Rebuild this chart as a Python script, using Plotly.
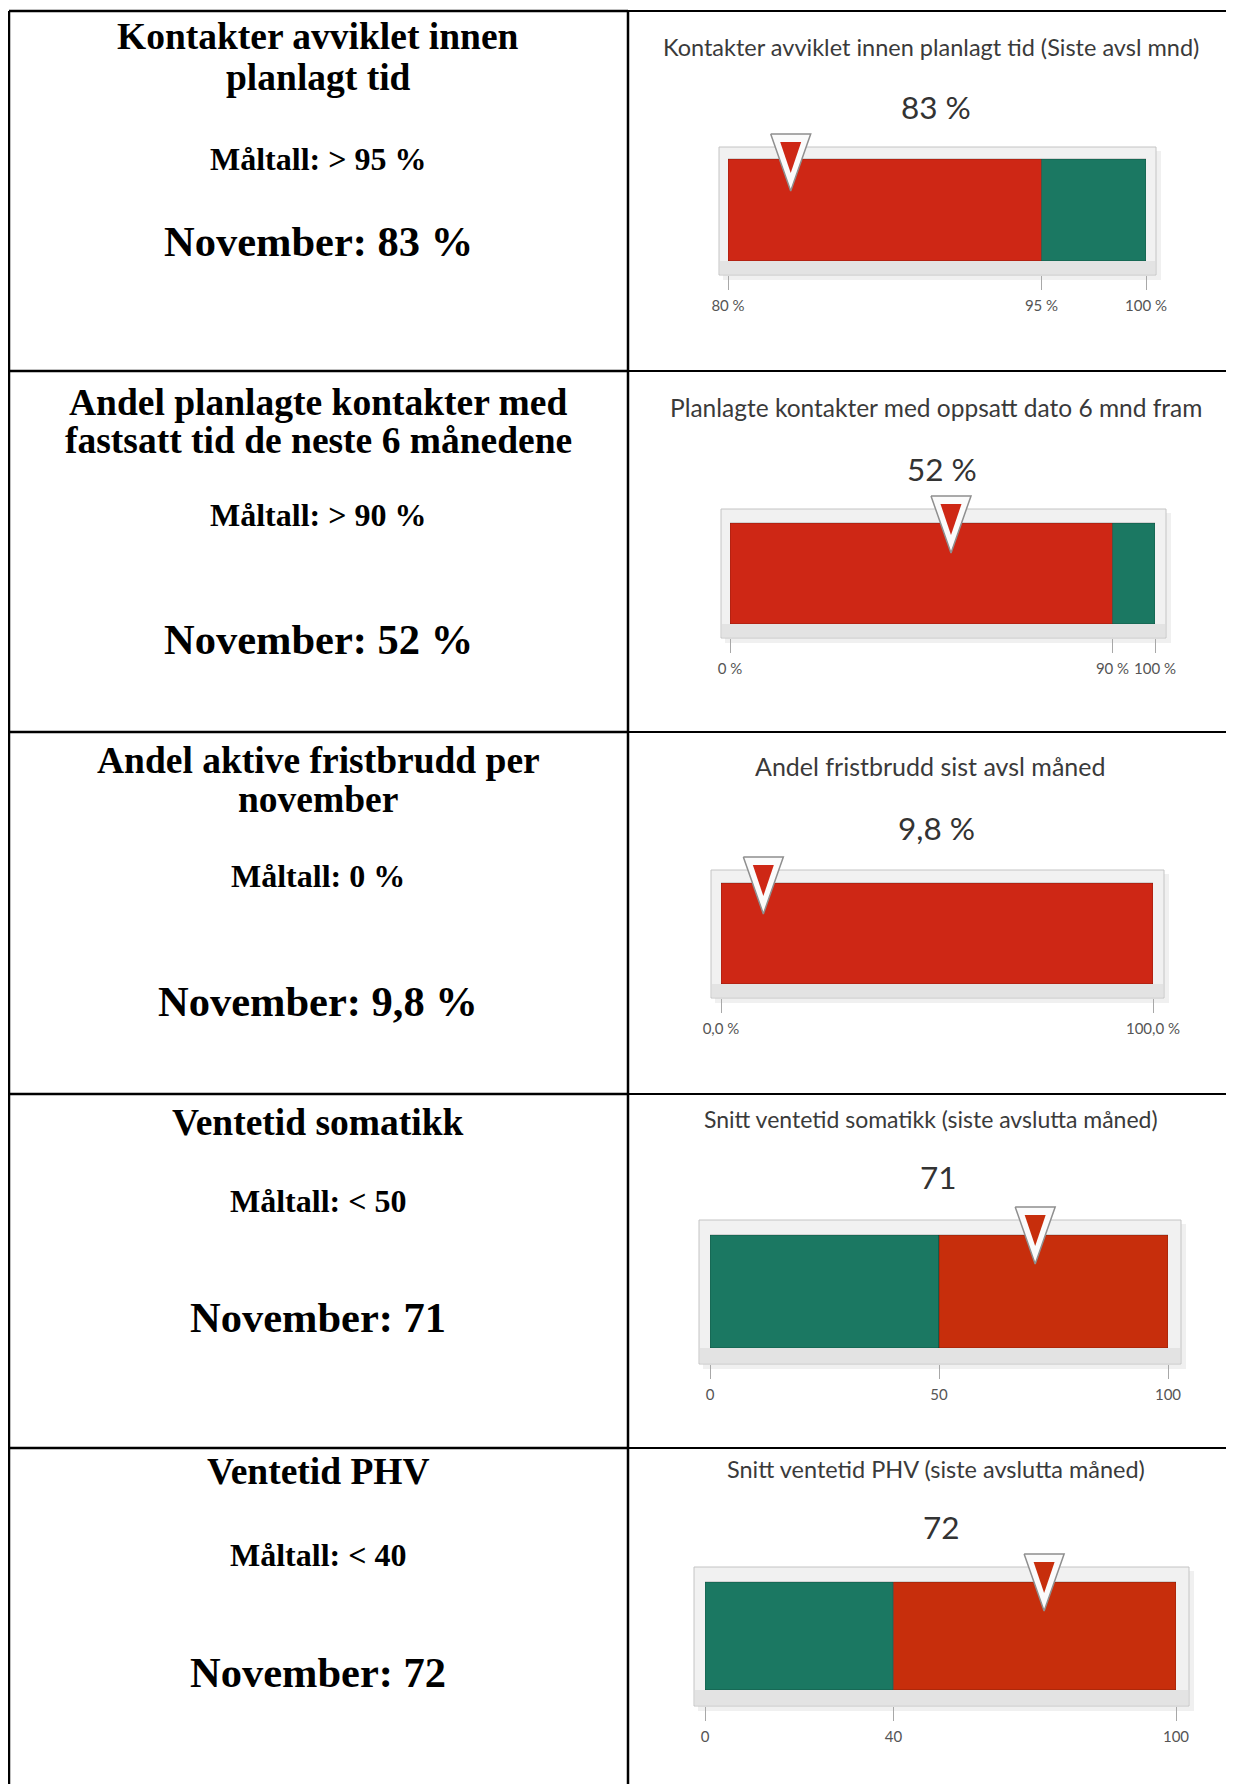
import plotly.graph_objects as go


# Bildestørrelse i piksler.
W, H = 1234, 1784
# Siden har 8 px marg rundt figuren, så alt flyttes litt opp og til venstre.
FORSKYVNING = 8

# Tekstene i venstre kolonne.
VENSTRE_TITLER = [
    ["Kontakter avviklet innen", "planlagt tid"],
    ["Andel planlagte kontakter med", "fastsatt tid de neste 6 månedene"],
    ["Andel aktive fristbrudd per", "november"],
    ["Ventetid somatikk"],
    ["Ventetid PHV"],
]
MALTALL = ["&gt; 95 %", "&gt; 90 %", "0 %", "&lt; 50", "&lt; 40"]
VERDI_TEKST = ["83 %", "52 %", "9,8 %", "71", "72"]

# Data for målerne i høyre kolonne.
DIAGRAM_TITLER = [
    "Kontakter avviklet innen planlagt tid (Siste avsl mnd)",
    "Planlagte kontakter med oppsatt dato 6 mnd fram",
    "Andel fristbrudd sist avsl måned",
    "Snitt ventetid somatikk (siste avslutta måned)",
    "Snitt ventetid PHV (siste avslutta måned)",
]
VERDIER = [83, 52, 9.8, 71, 72]
MIN = [80, 0, 0, 0, 0]
MAKS = [100, 100, 100, 100, 100]
MAL = [95, 90, 0, 50, 40]
RETNING = ["over", "over", "under", "under", "under"]
TICK_VERDIER = [[80, 95, 100], [0, 90, 100], [0, 100], [0, 50, 100], [0, 40, 100]]
TICK_TEKST = [
    ["80 %", "95 %", "100 %"],
    ["0 %", "90 %", "100 %"],
    ["0,0 %", "100,0 %"],
    ["0", "50", "100"],
    ["0", "40", "100"],
]

# Farger og skrift.
ROD = ["#CE2715", "#CE2715", "#CE2715", "#C72E0C", "#C72E0C"]
GRONN = "#1B7862"
SERIF = "Liberation Serif, Times New Roman, serif"
SANS = "Lato, sans-serif"
TITTEL_STR = [23.5, 24.5, 25, 23, 23.5]

# Plassering (piksler) for ramme og stolpe i hver måler.
RAMME = [
    (719, 147, 1156, 275),
    (721, 509, 1166, 638),
    (711, 870, 1164, 998),
    (699, 1220, 1181, 1364),
    (694, 1567, 1189, 1706),
]
STOLPE = [
    (728, 159, 1146, 261),
    (730, 523, 1155, 624),
    (721, 883, 1153, 984),
    (710, 1235, 1168, 1348),
    (705, 1582, 1176, 1690),
]
TITTEL_XY = [(931, 47), (936, 407), (930, 766), (931, 1119), (936, 1469)]
VERDI_XY = [(936, 107), (942, 469), (936, 828), (938, 1177), (941, 1527)]
VENSTRE_Y = [
    ([36, 77], 159, 242),
    ([403, 441], 515, 639),
    ([760, 800], 876, 1001),
    ([1122], 1201, 1317),
    ([1471], 1555, 1672),
]
LINJER_Y = [11, 371, 732, 1094, 1448]


def px(x):
    return (x - FORSKYVNING) / W


def py(y):
    return 1 - (y - FORSKYVNING) / H


fig = go.Figure()
shapes = []
annotations = []
layout = {}

# Tabellens linjer.
for x in [9, 628]:
    shapes.append(dict(type="line", xref="paper", yref="paper", x0=px(x), x1=px(x),
                       y0=py(LINJER_Y[0]), y1=py(H + 20), line=dict(color="black", width=2.5)))
for y in LINJER_Y:
    shapes.append(dict(type="line", xref="paper", yref="paper", x0=px(9), x1=px(628),
                       y0=py(y), y1=py(y), line=dict(color="black", width=2.5)))
    shapes.append(dict(type="line", xref="paper", yref="paper", x0=px(628), x1=px(W + 20),
                       y0=py(y), y1=py(y), line=dict(color="black", width=2)))

# Venstre kolonne.
for i in range(5):
    tittel_y, mal_y, nov_y = VENSTRE_Y[i]
    for linje, y in zip(VENSTRE_TITLER[i], tittel_y):
        annotations.append(dict(x=px(318), y=py(y), text=f"<b>{linje}</b>",
                                font=dict(family=SERIF, size=37.5, color="black")))
    annotations.append(dict(x=px(318), y=py(mal_y), text=f"<b>Måltall: {MALTALL[i]}</b>",
                            font=dict(family=SERIF, size=32, color="black")))
    annotations.append(dict(x=px(318), y=py(nov_y), text=f"<b>November: {VERDI_TEKST[i]}</b>",
                            font=dict(family=SERIF, size=42.5, color="black")))

# Høyre kolonne: målerne.
for i in range(5):
    s = "" if i == 0 else str(i + 1)
    fx0, fy0, fx1, fy1 = RAMME[i]
    bx0, by0, bx1, by1 = STOLPE[i]
    lo, hi, mal, v = MIN[i], MAKS[i], MAL[i], VERDIER[i]
    bar_h = by1 - by0
    topp = fy0 - 13

    # Ramme med skygge.
    shapes.append(dict(type="rect", xref="paper", yref="paper", layer="below",
                       x0=px(fx0 + 4), x1=px(fx1 + 5), y0=py(fy0 + 4), y1=py(fy1 + 5),
                       fillcolor="rgba(0,0,0,0.06)", line_width=0))
    shapes.append(dict(type="rect", xref="paper", yref="paper", layer="below",
                       x0=px(fx0), x1=px(fx1), y0=py(fy0), y1=py(fy1),
                       fillcolor="#f1f1f1", line=dict(color="#c4c4c4", width=1)))
    shapes.append(dict(type="rect", xref="paper", yref="paper", layer="below",
                       x0=px(fx0 + 1), x1=px(fx1 - 1), y0=py(by1), y1=py(fy1 - 1),
                       fillcolor="#e3e3e3", line_width=0))

    if RETNING[i] == "over":
        band = [(lo, mal, ROD[i]), (mal, hi, GRONN)]
    else:
        band = [(lo, mal, GRONN), (mal, hi, ROD[i])]
    for start, slutt, farge in band:
        if slutt <= start:
            continue
        fig.add_trace(go.Bar(
            x=[slutt - start], base=[start], y=[0], width=[1], orientation="h",
            marker=dict(color=farge, line=dict(color="rgba(0,0,0,0.25)", width=1)),
            xaxis="x" + s, yaxis="y" + s, hoverinfo="skip", showlegend=False,
        ))

    # Trekant som viser verdien.
    per_px = (hi - lo) / (bx1 - bx0)

    def ty(d):
        return -0.5 + (by1 - (topp + d)) / bar_h

    hw = 20 * per_px
    fig.add_trace(go.Scatter(
        x=[v - hw, v + hw, v, v - hw], y=[ty(0), ty(0), ty(57), ty(0)],
        mode="lines", fill="toself", fillcolor="#fbfbfb",
        line=dict(color="#8f8f8f", width=1.5),
        xaxis="x" + s, yaxis="y" + s, hoverinfo="skip", showlegend=False,
    ))
    iw = 10.5 * per_px
    fig.add_trace(go.Scatter(
        x=[v - iw, v + iw, v, v - iw], y=[ty(8), ty(8), ty(39), ty(8)],
        mode="lines", fill="toself", fillcolor=ROD[i], line=dict(width=0),
        xaxis="x" + s, yaxis="y" + s, hoverinfo="skip", showlegend=False,
    ))

    layout["xaxis" + s] = dict(
        domain=[px(bx0), px(bx1)], range=[lo, hi], anchor="free", position=py(fy1),
        tickvals=TICK_VERDIER[i], ticktext=TICK_TEKST[i], ticks="outside", ticklen=14,
        tickcolor="#a8a8a8", tickwidth=1, tickangle=0, ticklabelstandoff=3,
        showline=False, showgrid=False, zeroline=False, automargin=False,
        tickfont=dict(family=SANS, size=15, color="#555555"), fixedrange=True,
    )
    layout["yaxis" + s] = dict(
        domain=[py(by1), py(topp - 2)], range=[-0.5, -0.5 + (by1 - topp + 2) / bar_h],
        anchor="x" + s, visible=False, fixedrange=True, automargin=False,
    )

    tx, tyy = TITTEL_XY[i]
    annotations.append(dict(x=px(tx), y=py(tyy), text=DIAGRAM_TITLER[i],
                            font=dict(family=SANS, size=TITTEL_STR[i], color="#3a3a3a")))
    vx, vy = VERDI_XY[i]
    annotations.append(dict(x=px(vx), y=py(vy), text=VERDI_TEKST[i],
                            font=dict(family=SANS, size=31.5, color="#333333")))

for a in annotations:
    a.update(xref="paper", yref="paper", xanchor="center", yanchor="middle", showarrow=False)

fig.update_layout(
    width=W,
    height=H,
    margin=dict(l=0, r=0, t=0, b=0, pad=0, autoexpand=False),
    paper_bgcolor="white",
    plot_bgcolor="rgba(0,0,0,0)",
    barmode="overlay",
    showlegend=False,
    shapes=shapes,
    annotations=annotations,
    **layout,
)

fig.write_html("out.html")
